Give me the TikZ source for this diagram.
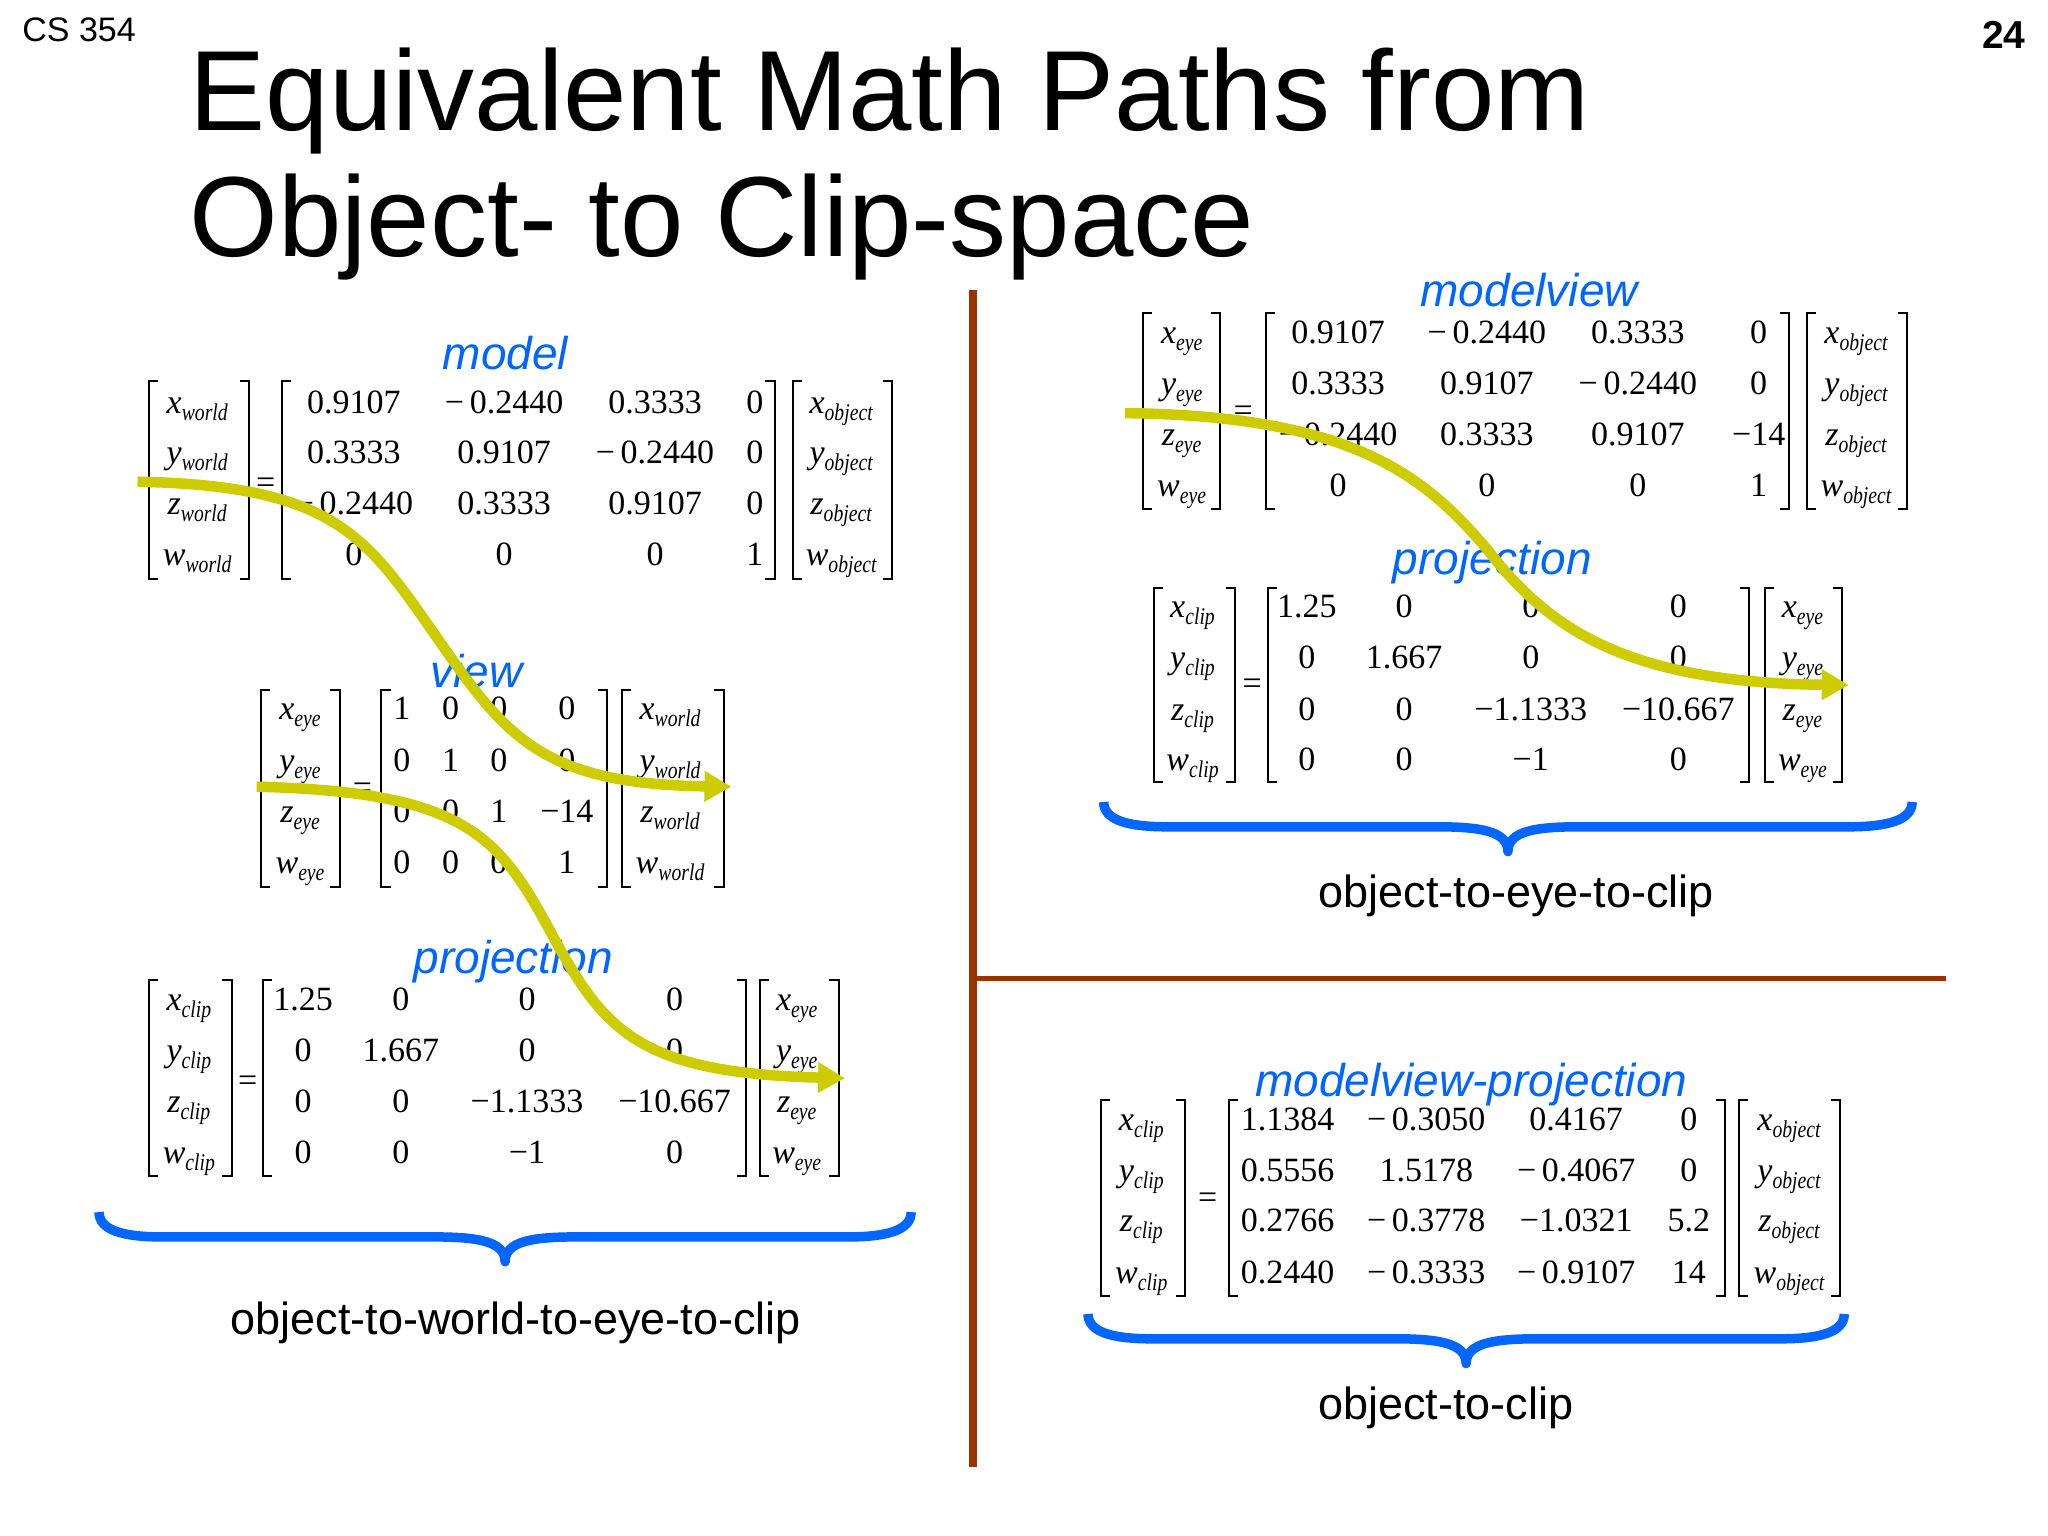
\documentclass[tikz,border=0pt]{standalone}
\usepackage{fontspec}
\usetikzlibrary{arrows.meta}

\newfontfamily\sansfam{Liberation Sans}
\newfontfamily\seriffam{Liberation Serif}
\newfontfamily\subfam[FakeStretch=0.82]{Liberation Serif}

\definecolor{labelblue}{RGB}{0,102,255}
\definecolor{flowyellow}{RGB}{204,204,0}
\definecolor{rulebrown}{RGB}{153,51,0}

\newcommand{\vsub}[1]{\raisebox{-7pt}{\subfam\itshape\fontsize{24}{24}\selectfont #1}}

\begin{document}
\begin{tikzpicture}[x=1.306pt,y=-1.306pt,
	num/.style={font=\seriffam\fontsize{34}{34}\selectfont,inner sep=0pt,anchor=base},
	vec/.style={num,font=\seriffam\itshape\fontsize{34}{34}\selectfont},
	lbl/.style={font=\sansfam\itshape\fontsize{46}{46}\selectfont,text=labelblue,inner sep=0pt,anchor=base},
	captxt/.style={font=\sansfam\fontsize{45}{45}\selectfont,inner sep=0pt,anchor=base},
	brk/.style={line width=2pt},
	bracepath/.style={draw=labelblue,line width=9.5pt,line join=round},
	flow/.style={draw=flowyellow,line width=10.5pt,-{Triangle[length=27pt,width=29pt]}}]
			\fill[white] (0,0) rectangle (1568,1176);
			\useasboundingbox (0,0) rectangle (1568,1176);
			
			\node[font=\sansfam\fontsize{34}{34}\selectfont,anchor=base west,inner sep=0pt] (course) at (17,32) {CS 354};
			\node[font=\sansfam\bfseries\fontsize{39}{39}\selectfont,anchor=base east,inner sep=0pt] (pageno) at (1551,37) {24};
			\node[font=\sansfam\fontsize{114}{114}\selectfont,anchor=base west,inner sep=0pt] (title1) at (145,100) {Equivalent Math Paths from};
			\node[font=\sansfam\fontsize{114}{114}\selectfont,anchor=base west,inner sep=0pt] (title2) at (145,196) {Object- to Clip-space};
			
			\draw[rulebrown,line width=8pt] (745,222) -- (745,1123);
			\draw[rulebrown,line width=5.5pt] (745,749) -- (1490,749);
			
			% model
			\node[lbl] (molbl) at (387,283) {model};
			\foreach \cmp/\a/\b/\c/\d/\y [count=\i] in {x/0.9107/−\,0.2440/0.3333/0/316.5, y/0.3333/0.9107/−\,0.2440/0/355.2, z/−\,0.2440/0.3333/0.9107/0/393.9, w/0/0/0/1/432.6}{
				\node[vec] (mol\i) at (151,\y) {\cmp\vsub{world}};
				\node[num] (mo\i1) at (271,\y) {\a}; \node[num] (mo\i2) at (386,\y) {\b};
				\node[num] (mo\i3) at (501.5,\y) {\c}; \node[num] (mo\i4) at (578,\y) {\d};
				\node[vec] (mor\i) at (644,\y) {\cmp\vsub{object}};
			}
			\node[num] (moeq) at (203.5,377.5) {=};
			\foreach \a/\b in {114/191, 216/593, 607/683}{
				\draw[brk] (\a+7,292) -| (\a,443) -- (\a+7,443);
				\draw[brk] (\b-7,292) -| (\b,443) -- (\b-7,443);
			}
			
			% view
			\node[lbl] (vilbl) at (365,526) {view};
			\foreach \cmp/\a/\b/\c/\d/\y [count=\i] in {x/1/0/0/0/551, y/0/1/0/0/590.5, z/0/0/1/−14/630, w/0/0/0/1/669}{
				\node[vec] (vil\i) at (229.7,\y) {\cmp\vsub{eye}};
				\node[num] (vi\i1) at (307.6,\y) {\a}; \node[num] (vi\i2) at (345,\y) {\b};
				\node[num] (vi\i3) at (382,\y) {\c}; \node[num] (vi\i4) at (434,\y) {\d};
				\node[vec] (vir\i) at (513,\y) {\cmp\vsub{world}};
			}
			\node[num] (vieq) at (277.6,611.5) {=};
			\foreach \a/\b in {200/260, 292/464.5, 476/554}{
				\draw[brk] (\a+7,528) -| (\a,679) -- (\a+7,679);
				\draw[brk] (\b-7,528) -| (\b,679) -- (\b-7,679);
			}
			
			% projection (left)
			\node[lbl] (pllbl) at (393,745) {projection};
			\foreach \cmp/\a/\b/\c/\d/\y [count=\i] in {x/1.25/0/0/0/773.4, y/0/1.667/0/0/813, z/0/0/−1.1333/−10.667/852, w/0/0/−1/0/890.8}{
				\node[vec] (pll\i) at (144.6,\y) {\cmp\vsub{clip}};
				\node[num] (pl\i1) at (232,\y) {\a}; \node[num] (pl\i2) at (307,\y) {\b};
				\node[num] (pl\i3) at (403.5,\y) {\c}; \node[num] (pl\i4) at (516.5,\y) {\d};
				\node[vec] (plr\i) at (610,\y) {\cmp\vsub{eye}};
			}
			\node[num] (pleq) at (189.7,835.5) {=};
			\foreach \a/\b in {113.7/177.3, 201.3/571, 582/642}{
				\draw[brk] (\a+7,750) -| (\a,900.5) -- (\a+7,900.5);
				\draw[brk] (\b-7,750) -| (\b,900.5) -- (\b-7,900.5);
			}
			
			% modelview
			\node[lbl] (mvlbl) at (1170.8,234.8) {modelview};
			\foreach \cmp/\a/\b/\c/\d/\y [count=\i] in {x/0.9107/−\,0.2440/0.3333/0/263, y/0.3333/0.9107/−\,0.2440/0/302, z/−\,0.2440/0.3333/0.9107/−14/341, w/0/0/0/1/380}{
				\node[vec] (mvl\i) at (904.7,\y) {\cmp\vsub{eye}};
				\node[num] (mv\i1) at (1024.5,\y) {\a}; \node[num] (mv\i2) at (1138.4,\y) {\b};
				\node[num] (mv\i3) at (1254,\y) {\c}; \node[num] (mv\i4) at (1346.5,\y) {\d};
				\node[vec] (mvr\i) at (1421,\y) {\cmp\vsub{object}};
			}
			\node[num] (mveq) at (951.8,323) {=};
			\foreach \a/\b in {875/934, 969.4/1370, 1383.6/1460}{
				\draw[brk] (\a+7,240) -| (\a,390) -- (\a+7,390);
				\draw[brk] (\b-7,240) -| (\b,390) -- (\b-7,390);
			}
			
			% projection (right)
			\node[lbl] (prlbl) at (1142.5,440) {projection};
			\foreach \cmp/\a/\b/\c/\d/\y [count=\i] in {x/1.25/0/0/0/472.7, y/0/1.667/0/0/511.7, z/0/0/−1.1333/−10.667/551.3, w/0/0/−1/0/590}{
				\node[vec] (prl\i) at (913,\y) {\cmp\vsub{clip}};
				\node[num] (pr\i1) at (1000.6,\y) {\a}; \node[num] (pr\i2) at (1075,\y) {\b};
				\node[num] (pr\i3) at (1172,\y) {\c}; \node[num] (pr\i4) at (1285,\y) {\d};
				\node[vec] (prr\i) at (1380,\y) {\cmp\vsub{eye}};
			}
			\node[num] (preq) at (958.7,532) {=};
			\foreach \a/\b in {883.3/945.7, 970.6/1339, 1351/1410}{
				\draw[brk] (\a+7,450) -| (\a,599) -- (\a+7,599);
				\draw[brk] (\b-7,450) -| (\b,599) -- (\b-7,599);
			}
			
			% modelview-projection
			\node[lbl] (mplbl) at (1126.5,839.7) {modelview-projection};
			\foreach \cmp/\a/\b/\c/\d/\y [count=\i] in {x/1.1384/−\,0.3050/0.4167/0/865.2, y/0.5556/1.5178/−\,0.4067/0/904.8, z/0.2766/−\,0.3778/−1.0321/5.2/943.1, w/0.2440/−\,0.3333/−\,0.9107/14/982.6}{
				\node[vec] (mpl\i) at (873.8,\y) {\cmp\vsub{clip}};
				\node[num] (mp\i1) at (985.8,\y) {\a}; \node[num] (mp\i2) at (1092,\y) {\b};
				\node[num] (mp\i3) at (1206.8,\y) {\c}; \node[num] (mp\i4) at (1293,\y) {\d};
				\node[vec] (mpr\i) at (1369.7,\y) {\cmp\vsub{object}};
			}
			\node[num] (mpeq) at (924.6,925) {=};
			\foreach \a/\b in {843/907.4, 941/1320.8, 1331.6/1409}{
				\draw[brk] (\a+7,842) -| (\a,992) -- (\a+7,992);
				\draw[brk] (\b-7,842) -| (\b,992) -- (\b-7,992);
			}
			
			% braces and captions
			\foreach \xa/\xb/\yt [evaluate=\xa as \xm using (\xa+\xb)/2] in {75.8/697.6/928, 845/1464/614, 833/1412/1006}{
				\draw[bracepath] (\xa,\yt) .. controls (\xa,\yt+14) and (\xa+19,\yt+19) .. (\xa+48,\yt+19)
					-- (\xm-55,\yt+19) .. controls (\xm-22,\yt+19) and (\xm,\yt+22) .. (\xm,\yt+38)
					.. controls (\xm,\yt+22) and (\xm+22,\yt+19) .. (\xm+55,\yt+19)
					-- (\xb-48,\yt+19) .. controls (\xb-19,\yt+19) and (\xb,\yt+14) .. (\xb,\yt);
			}
			\node[captxt] (cap1) at (395,1022) {object-to-world-to-eye-to-clip};
			\node[captxt] (cap2) at (1161,695) {object-to-eye-to-clip};
			\node[captxt] (cap3) at (1107,1087) {object-to-clip};
			
			% yellow paths
			\coordinate (fl1s) at (105.3,368.8); \coordinate (fl1m) at (333,486); \coordinate (fl1e) at (560,602.3);
			\coordinate (fl2s) at (196.5,602.3); \coordinate (fl2m) at (421.8,713.9); \coordinate (fl2e) at (647,825.5);
			\coordinate (fl3s) at (861.4,316.3); \coordinate (fl3m) at (1138.5,420.4); \coordinate (fl3e) at (1415.5,524.5);
			\draw[flow] (fl1s) .. controls +(150,3) and +(-53,-76) .. (fl1m) .. controls +(53,76) and +(-148,-2) .. (fl1e);
			\draw[flow] (fl2s) .. controls +(160,4) and +(-40,-74) .. (fl2m) .. controls +(40,74) and +(-160,-4) .. (fl2e);
			\draw[flow] (fl3s) .. controls +(175,2) and +(-48,-56) .. (fl3m) .. controls +(45,58) and +(-175,-2) .. (fl3e);
\end{tikzpicture}
\end{document}
